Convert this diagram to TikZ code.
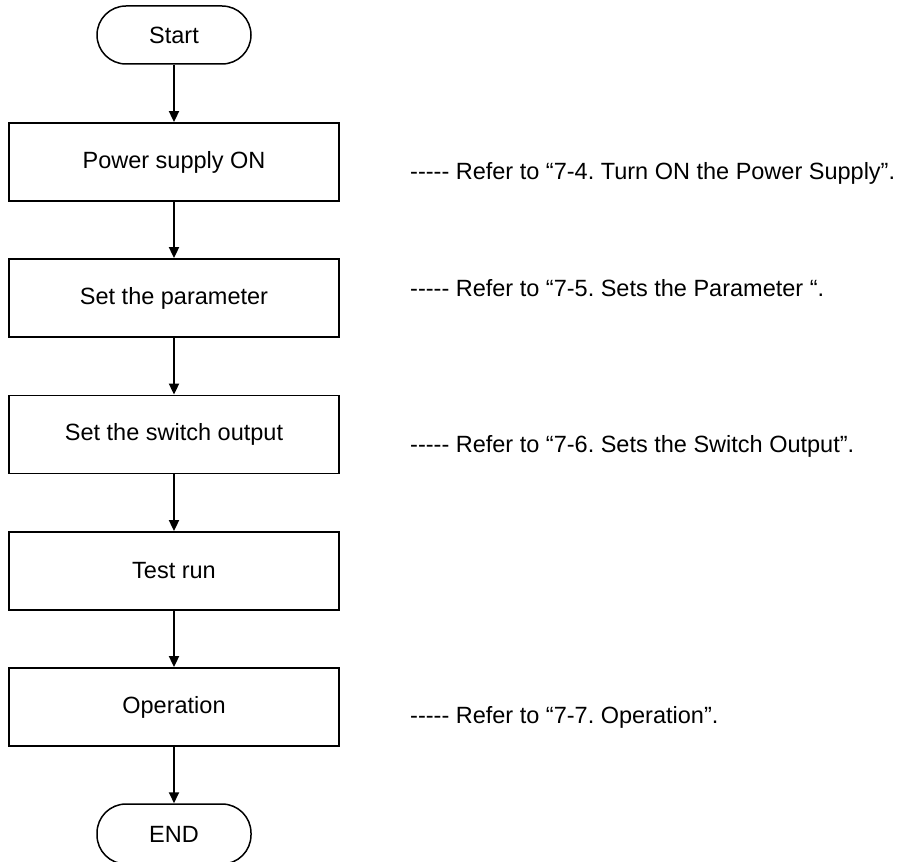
\documentclass[tikz,border=0pt]{standalone}
\usepackage{fontspec}
\setmainfont{Liberation Sans}[Ligatures=TeXOff]
\usetikzlibrary{arrows.meta}
\frenchspacing
\begin{document}
\begin{tikzpicture}[x=1pt,y=-1pt,
  every node/.style={font=\fontsize{23.5}{28}\selectfont, inner sep=0pt},
  stepbox/.style={draw, line width=1.8pt, minimum width=330pt, minimum height=78pt},
  term/.style={draw, line width=1.5pt, rounded corners=29pt, minimum width=154pt, minimum height=58pt},
  note/.style={anchor=base west},
  arr/.style={line width=1.8pt, -{Triangle[width=10pt,length=11pt]}}]
\useasboundingbox (0,0) rectangle (901,861);
\node[term] (s) at (174,35) {Start};
\node[stepbox] (b1) at (174,162) {Power supply ON};
\node[stepbox] (b2) at (174,298) {Set the parameter};
\node[stepbox] (b3) at (174,434.5) {Set the switch output};
\node[stepbox] (b4) at (174,571) {Test run};
\node[stepbox] (b5) at (174,707) {Operation};
\node[term, minimum height=60pt] (e) at (174,834) {END};
\draw[arr] (s) -- (b1);
\draw[arr] (b1) -- (b2);
\draw[arr] (b2) -- (b3);
\draw[arr] (b3) -- (b4);
\draw[arr] (b4) -- (b5);
\draw[arr] (b5) -- (e);
\node[note] (n1) at (410,179) {----- Refer to “7-4. Turn ON the Power Supply”.};
\node[note] (n2) at (410,296) {----- Refer to “7-5. Sets the Parameter “.};
\node[note] (n3) at (410,452) {----- Refer to “7-6. Sets the Switch Output”.};
\node[note] (n5) at (410,723) {----- Refer to “7-7. Operation”.};
\end{tikzpicture}
\end{document}
